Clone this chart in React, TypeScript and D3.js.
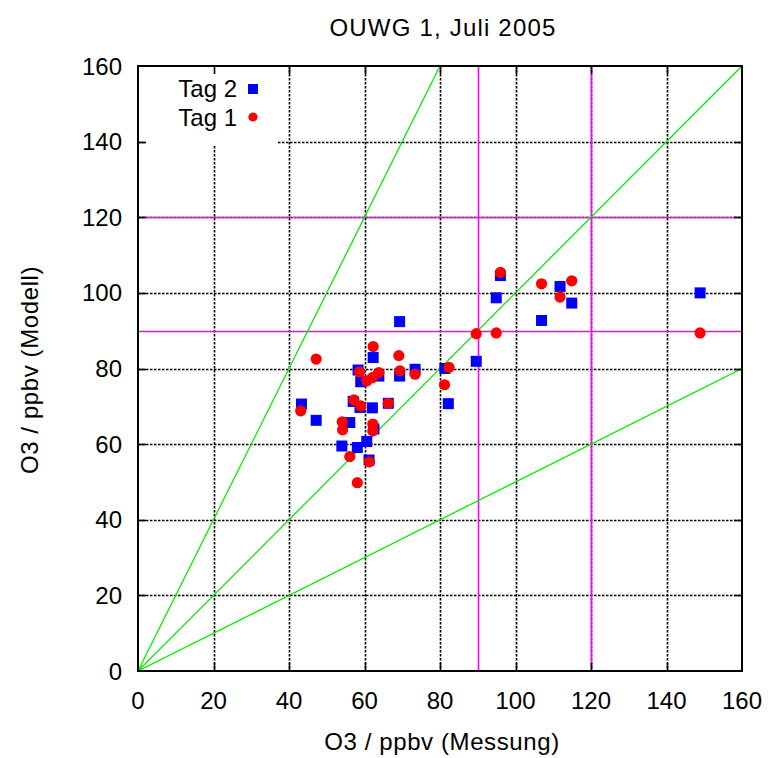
import React from "react";
import * as d3 from "d3";

// Ozone: measured (x) vs modelled (y), ppbv
const tag2X = [43.3, 47.2, 54.0, 56.1, 57.0, 58.1, 58.3, 58.8, 59.0, 60.6, 61.2, 62.1, 62.3, 62.5, 63.8, 66.3, 69.3, 69.3, 73.4, 81.3, 82.2, 89.6, 94.9, 96.0, 106.9, 111.8, 114.9, 148.9];
const tag2Y = [70.6, 66.3, 59.5, 65.7, 71.3, 59.1, 79.6, 69.7, 76.5, 60.7, 55.8, 69.6, 82.9, 64.0, 78.0, 70.8, 92.4, 78.0, 79.8, 80.0, 70.7, 81.9, 98.7, 104.6, 92.7, 101.7, 97.3, 100.0];

const tag1X = [43.1, 47.2, 54.1, 54.2, 56.1, 57.2, 58.1, 58.7, 59.0, 60.6, 61.3, 62.1, 62.2, 62.2, 62.3, 63.8, 66.3, 69.1, 69.4, 73.4, 81.2, 82.4, 89.6, 94.9, 96.0, 106.9, 111.8, 114.9, 148.9];
const tag1Y = [68.8, 82.5, 65.9, 63.8, 56.7, 71.7, 49.8, 79.1, 70.1, 76.7, 55.3, 77.6, 65.3, 63.5, 85.8, 78.9, 70.8, 83.4, 79.4, 78.5, 75.7, 80.3, 89.2, 89.4, 105.4, 102.4, 98.9, 103.2, 89.4];

const ticks = [0, 20, 40, 60, 80, 100, 120, 140, 160];
const thresholds = [90, 120];
const ratios = [2, 1, 0.5];

const title = "OUWG 1, Juli 2005";
const xLabel = "O3 / ppbv (Messung)";
const yLabel = "O3 / ppbv (Modell)";
const seriesNames = ["Tag 2", "Tag 1"];

const W = 773;
const H = 758;
const left = 138, right = 742, top = 66, bottom = 671;
const font = "'Liberation Sans', Arial, Helvetica, sans-serif";

// snap a coordinate to the pixel grid for crisp 1px-ish lines
const px = (v: number) => Math.round(v) + 0.5;

export default function App() {
  const x = d3.scaleLinear().domain([0, 160]).range([left, right]);
  const y = d3.scaleLinear().domain([0, 160]).range([bottom, top]);
  const tickLen = 8;
  const sq = 11;

  return (
    <svg width={W} height={H} style={{ position: "absolute", left: 0, top: 0, background: "#fff" }}
      fontFamily={font}>
      <rect x={0} y={0} width={W} height={H} fill="#fff" />
      <defs>
        <clipPath id="plot">
          <rect x={left} y={top} width={right - left} height={bottom - top} />
        </clipPath>
      </defs>

      {/* dotted grid */}
      <g stroke="#000" strokeWidth={1.6} strokeDasharray="2.5,1.5">
        {ticks.slice(1, -1).map((t) => (
          <line key={"gx" + t} x1={px(x(t))} x2={px(x(t))} y1={top} y2={bottom} />
        ))}
        {ticks.slice(1, -1).map((t) => (
          <line key={"gy" + t} x1={left} x2={right} y1={px(y(t))} y2={px(y(t))} />
        ))}
      </g>

      {/* legend background */}
      <rect x={left + 8} y={top + 1} width={132} height={78} fill="#fff" />

      {/* threshold lines */}
      <g stroke="#ff00ff" strokeWidth={1.6}>
        {thresholds.map((t) => (
          <line key={"tx" + t} x1={px(x(t))} x2={px(x(t))} y1={top} y2={bottom} />
        ))}
        {thresholds.map((t) => (
          <line key={"ty" + t} x1={left} x2={right} y1={px(y(t))} y2={px(y(t))} />
        ))}
      </g>

      {/* ratio lines y = k·x */}
      <g clipPath="url(#plot)" stroke="#00ee00" strokeWidth={1.3}>
        {ratios.map((k) => {
          const xe = Math.min(160, 160 / k);
          return <line key={"r" + k} x1={x(0)} y1={y(0)} x2={x(xe)} y2={y(k * xe)} />;
        })}
      </g>

      {/* points */}
      <g fill="#0000ff">
        {tag2X.map((v, i) => (
          <rect key={"b" + i} x={x(v) - sq / 2} y={y(tag2Y[i]) - sq / 2} width={sq} height={sq} />
        ))}
      </g>
      <g fill="#ff0000">
        {tag1X.map((v, i) => (
          <circle key={"r" + i} cx={x(v)} cy={y(tag1Y[i])} r={5.6} />
        ))}
      </g>

      {/* ticks on all sides */}
      <g stroke="#000" strokeWidth={1.6}>
        {ticks.slice(1, -1).map((t) => (
          <g key={"t" + t}>
            <line x1={px(x(t))} x2={px(x(t))} y1={bottom} y2={bottom - tickLen} />
            <line x1={px(x(t))} x2={px(x(t))} y1={top} y2={top + tickLen} />
            <line x1={left} x2={left + tickLen} y1={px(y(t))} y2={px(y(t))} />
            <line x1={right} x2={right - tickLen} y1={px(y(t))} y2={px(y(t))} />
          </g>
        ))}
      </g>

      {/* frame */}
      <rect x={left} y={top} width={right - left} height={bottom - top} fill="none" stroke="#000" strokeWidth={2} />

      {/* tick labels */}
      <g fontSize={24} fill="#000">
        {ticks.map((t) => (
          <text key={"lx" + t} x={x(t)} y={bottom + 38} textAnchor="middle">{t}</text>
        ))}
        {ticks.map((t) => (
          <text key={"ly" + t} x={left - 16} y={y(t) + 8.5} textAnchor="end">{t}</text>
        ))}
      </g>

      {/* legend */}
      <g fontSize={24} fill="#000">
        <text x={237} y={97} textAnchor="end">{seriesNames[0]}</text>
        <rect x={253 - 5} y={89 - 5} width={10} height={10} fill="#0000ff" />
        <text x={237} y={126} textAnchor="end">{seriesNames[1]}</text>
        <circle cx={253} cy={117} r={4.6} fill="#ff0000" />
      </g>

      {/* titles */}
      <text x={443} y={36} textAnchor="middle" fontSize={24} letterSpacing={1.2}>{title}</text>
      <text x={442} y={750} textAnchor="middle" fontSize={24} letterSpacing={0.6}>{xLabel}</text>
      <text transform={`translate(38,370) rotate(-90)`} textAnchor="middle" fontSize={24} letterSpacing={0.6}>{yLabel}</text>
    </svg>
  );
}
